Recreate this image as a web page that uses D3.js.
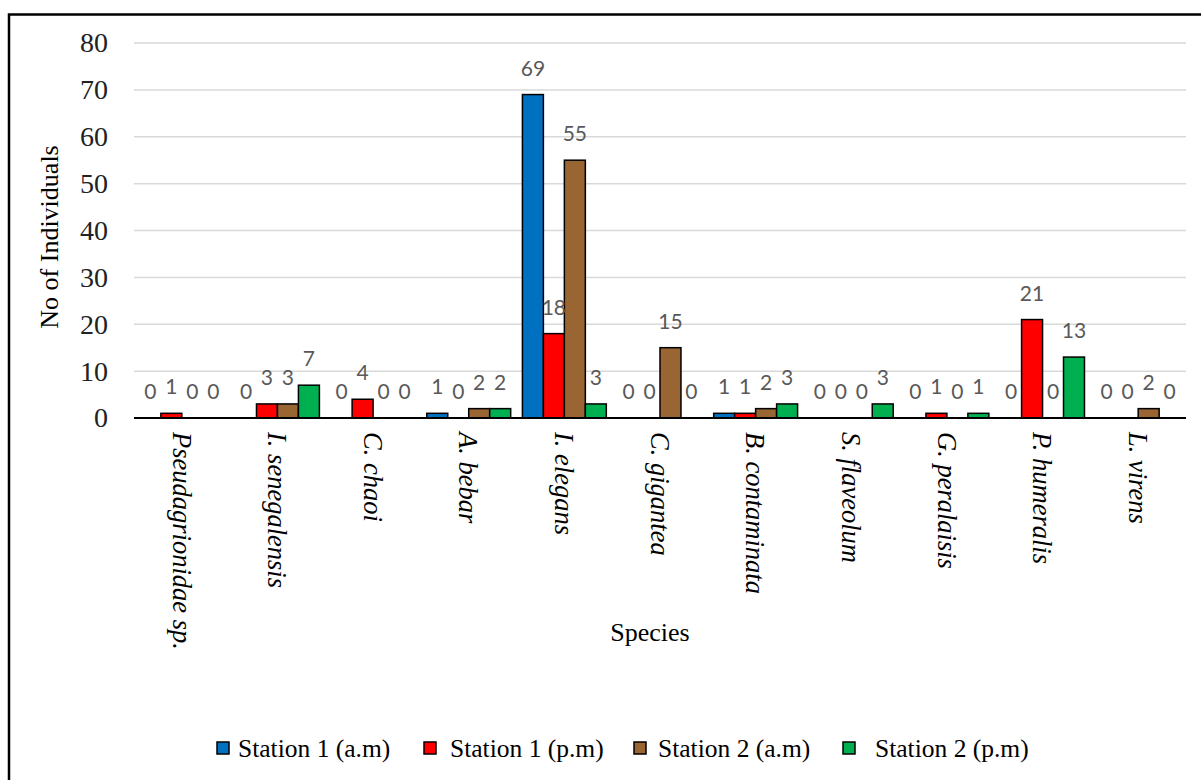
<!DOCTYPE html>
<html>
<head>
<meta charset="utf-8">
<script src="https://cdn.jsdelivr.net/npm/d3@7"></script>
<style>
  body { margin: 0; background: #fff; }
</style>
</head>
<body>
<div id="chart"></div>
<script>
// species on the x axis
const species = ["Pseudagrionidae sp.", "I. senegalensis", "C. chaoi", "A. bebar", "I. elegans",
  "C. gigantea", "B. contaminata", "S. flaveolum", "G. peralaisis", "P. humeralis", "L. virens"];
const seriesNames = ["Station 1 (a.m)", "Station 1 (p.m)", "Station 2 (a.m)", "Station 2 (p.m)"];
const seriesColors = ["#0070C0", "#FF0000", "#996633", "#00B050"];
// counts per species
const station1Am = [0, 0, 0, 1, 69, 0, 1, 0, 0, 0, 0];
const station1Pm = [1, 3, 4, 0, 18, 0, 1, 0, 1, 21, 0];
const station2Am = [0, 3, 0, 2, 55, 15, 2, 0, 0, 0, 2];
const station2Pm = [0, 7, 0, 2, 3, 0, 3, 3, 1, 13, 0];
const yTicks = [0, 10, 20, 30, 40, 50, 60, 70, 80];

const seriesValues = [station1Am, station1Pm, station2Am, station2Pm];

const W = 1201, H = 780;
const plot = { left: 134, right: 1186, top: 43, bottom: 418 };
const serif = "Liberation Serif, Times New Roman, serif";

const svg = d3.select("#chart").append("svg")
  .attr("width", W)
  .attr("height", H);

// outer frame (only top and left edges visible)
svg.append("path")
  .attr("d", `M9,${H} L9,14.5 L${W},14.5`)
  .attr("fill", "none")
  .attr("stroke", "#000")
  .attr("stroke-width", 2.5);

const x0 = d3.scaleBand().domain(species).range([plot.left, plot.right]).padding(0);
const x1 = d3.scaleBand().domain(seriesNames).range([0, x0.bandwidth()]).paddingInner(0).paddingOuter(0.28);
const y = d3.scaleLinear().domain([0, 80]).range([plot.bottom, plot.top]);

// gridlines
svg.append("g")
  .selectAll("line")
  .data(yTicks.filter(d => d > 0))
  .join("line")
  .attr("x1", plot.left)
  .attr("x2", plot.right)
  .attr("y1", d => y(d))
  .attr("y2", d => y(d))
  .attr("stroke", "#d9d9d9")
  .attr("stroke-width", 1.5);

// y axis tick labels
const yAxis = svg.append("g")
  .attr("transform", `translate(108,0)`)
  .call(d3.axisLeft(y).tickValues(yTicks).tickSize(0).tickPadding(0));
yAxis.select(".domain").remove();
yAxis.selectAll("text")
  .attr("font-family", serif)
  .attr("font-size", 28)
  .attr("fill", "#222");

// bars
const rows = species.map((s, i) => ({ s, vals: seriesValues.map((arr, k) => ({ k, v: arr[i] })) }));
const groups = svg.append("g")
  .selectAll("g")
  .data(rows)
  .join("g")
  .attr("transform", d => `translate(${x0(d.s)},0)`);

groups.selectAll("rect")
  .data(d => d.vals.filter(e => e.v > 0))
  .join("rect")
  .attr("x", e => x1(seriesNames[e.k]))
  .attr("y", e => y(e.v))
  .attr("width", x1.bandwidth())
  .attr("height", e => y(0) - y(e.v))
  .attr("fill", e => seriesColors[e.k])
  .attr("stroke", "#000")
  .attr("stroke-width", 1.5);

// baseline
svg.append("line")
  .attr("x1", plot.left)
  .attr("x2", plot.right)
  .attr("y1", y(0))
  .attr("y2", y(0))
  .attr("stroke", "#000")
  .attr("stroke-width", 2);

// data labels
groups.selectAll("text.val")
  .data(d => d.vals)
  .join("text")
  .attr("class", "val")
  .attr("x", e => x1(seriesNames[e.k]) + x1.bandwidth() / 2)
  .attr("y", e => y(e.v) - 19)
  .attr("text-anchor", "middle")
  .attr("font-family", "Lato, Open Sans, sans-serif")
  .attr("font-size", 21)
  .attr("fill", "#595959")
  .text(e => e.v);

// category labels
const xAxis = svg.append("g")
  .attr("transform", `translate(0,${plot.bottom})`)
  .call(d3.axisBottom(x0).tickSize(0).tickPadding(0));
xAxis.select(".domain").remove();
xAxis.selectAll("text")
  .attr("font-family", serif)
  .attr("font-style", "italic")
  .attr("font-size", 26.5)
  .attr("fill", "#000")
  .attr("text-anchor", "start")
  .attr("transform", "rotate(90)")
  .attr("x", 14)
  .attr("y", 0)
  .attr("dy", "0.35em");

// axis titles
svg.append("text")
  .attr("transform", `translate(58,237) rotate(-90)`)
  .attr("text-anchor", "middle")
  .attr("font-family", serif)
  .attr("font-size", 26)
  .text("No of Individuals");

svg.append("text")
  .attr("x", 650)
  .attr("y", 641)
  .attr("text-anchor", "middle")
  .attr("font-family", serif)
  .attr("font-size", 26)
  .text("Species");

// legend
const legendSquareX = [217, 424, 634, 843];
const legendTextX = [238, 450, 658, 875];
const legend = svg.append("g")
  .selectAll("g")
  .data(seriesNames)
  .join("g");
legend.append("rect")
  .attr("x", (d, i) => legendSquareX[i])
  .attr("y", 742)
  .attr("width", 12)
  .attr("height", 12)
  .attr("fill", (d, i) => seriesColors[i])
  .attr("stroke", "#000")
  .attr("stroke-width", 1.5);
legend.append("text")
  .attr("x", (d, i) => legendTextX[i])
  .attr("y", 748)
  .attr("dy", "0.35em")
  .attr("font-family", serif)
  .attr("font-size", 25.5)
  .attr("fill", "#000")
  .text(d => d);
</script>
</body>
</html>
